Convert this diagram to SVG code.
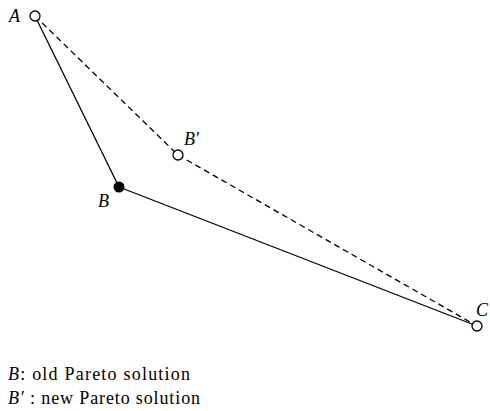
<svg xmlns="http://www.w3.org/2000/svg" width="490" height="411" viewBox="0 0 490 411">
<style>
.l{stroke:#000;stroke-width:1.3;fill:none}
.d{stroke-dasharray:6,4}
.o{fill:#fff;stroke:#000;stroke-width:1.3}
.t{font-family:"Liberation Serif",serif;font-size:18px;fill:#000}
.i{font-style:italic}
</style>
<rect width="490" height="411" fill="#fff"/>
<g id="connectors">
<line class="l" x1="35" y1="16" x2="119" y2="187"/>
<line class="l" x1="119" y1="187" x2="477" y2="326"/>
<line class="l d" x1="35" y1="16" x2="178" y2="155"/>
<line class="l d" x1="178" y1="155" x2="477" y2="326"/>
</g>
<g id="A"><circle class="o" cx="35" cy="16" r="5"/><text class="t i" x="9" y="22">A</text></g>
<g id="Bp"><circle class="o" cx="178" cy="155" r="5"/><text class="t i" x="184" y="145">B′</text></g>
<g id="B"><circle cx="119" cy="187" r="5.5" fill="#000"/><text class="t i" x="98" y="207">B</text></g>
<g id="C"><circle class="o" cx="477" cy="326" r="5"/><text class="t i" x="476" y="316">C</text></g>
<g id="legend">
<text class="t" x="8" y="380" textLength="182" lengthAdjust="spacing"><tspan class="i">B</tspan>: old Pareto solution</text>
<text class="t" x="8" y="404" textLength="192" lengthAdjust="spacing"><tspan class="i">B′</tspan> : new Pareto solution</text>
</g>
</svg>
